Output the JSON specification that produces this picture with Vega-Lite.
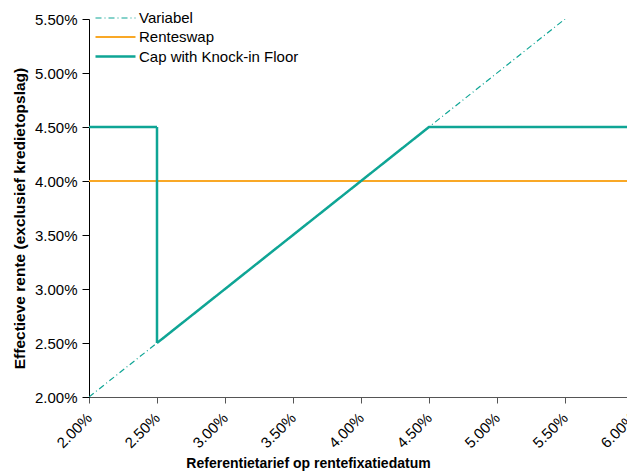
{
  "$schema": "https://vega.github.io/schema/vega-lite/v6.json",
  "autosize": "none",
  "width": 544,
  "height": 378,
  "padding": {"left": 89, "top": 19, "right": -6, "bottom": 74},
  "background": "white",
  "config": {
    "view": {"stroke": null},
    "font": "Liberation Sans",
    "axis": {"labelFont": "Liberation Sans", "titleFont": "Liberation Sans", "labelColor": "black", "titleColor": "black", "grid": false, "labelFontSize": 15, "titleFontWeight": "bold"}
  },
  "data": {
    "values": [
      {"series": "Variabel", "i": 0, "x": 0.02, "y": 0.02},
      {"series": "Variabel", "i": 1, "x": 0.055, "y": 0.055},
      {"series": "Renteswap", "i": 0, "x": 0.02, "y": 0.04},
      {"series": "Renteswap", "i": 1, "x": 0.06, "y": 0.04},
      {"series": "Cap with Knock-in Floor", "i": 0, "x": 0.02, "y": 0.045},
      {"series": "Cap with Knock-in Floor", "i": 1, "x": 0.025, "y": 0.045},
      {"series": "Cap with Knock-in Floor", "i": 2, "x": 0.025, "y": 0.025},
      {"series": "Cap with Knock-in Floor", "i": 3, "x": 0.045, "y": 0.045},
      {"series": "Cap with Knock-in Floor", "i": 4, "x": 0.06, "y": 0.045}
    ]
  },
  "mark": {"type": "line", "clip": true, "strokeCap": "butt"},
  "encoding": {
    "x": {"field": "x", "type": "quantitative",
      "scale": {"domain": [0.02, 0.06], "nice": false, "zero": false},
      "axis": {"values": [0.02, 0.025, 0.03, 0.035, 0.04, 0.045, 0.05, 0.055, 0.06], "format": ".2%", "labelAngle": -45, "labelAlign": "right", "labelBaseline": "middle", "labelPadding": 12, "labelDx": -5, "tickSize": 6, "tickColor": "#555", "domainColor": "#555", "labelOverlap": false, "labelBound": false,
        "title": "Referentietarief op rentefixatiedatum", "titleFontSize": 14, "titleX": 219, "titleY": 66, "titleBaseline": "middle", "titleAnchor": null, "titleAlign": "center"}},
    "y": {"field": "y", "type": "quantitative",
      "scale": {"domain": [0.02, 0.055], "nice": false, "zero": false},
      "axis": {"values": [0.02, 0.025, 0.03, 0.035, 0.04, 0.045, 0.05, 0.055], "format": ".2%", "tickSize": 7, "labelPadding": 5, "domainColor": "black", "tickColor": "black", "labelOverlap": false,
        "title": "Effectieve rente (exclusief kredietopslag)", "titleFontSize": 15.5, "titleX": -70, "titleY": 199, "titleBaseline": "middle", "titleAlign": "center", "titleAngle": -90}},
    "order": {"field": "i", "type": "quantitative"},
    "color": {"field": "series", "type": "nominal",
      "scale": {"domain": ["Variabel", "Renteswap", "Cap with Knock-in Floor"], "range": ["#0FA595", "#F9A826", "#0FA595"]},
      "legend": {"title": null, "orient": "none", "legendX": 15, "legendY": -12, "padding": 0, "symbolType": "M-2,0L2,0", "symbolSize": 400, "symbolFillColor": "transparent", "labelFontSize": 15, "labelFont": "Liberation Sans", "labelColor": "black", "rowPadding": 0, "labelOffset": 12}},
    "strokeDash": {"field": "series", "type": "nominal",
      "scale": {"domain": ["Variabel", "Renteswap", "Cap with Knock-in Floor"], "range": [[6, 3, 1, 3], [1, 0], [1, 0]]},
      "legend": {"title": null}},
    "strokeWidth": {"field": "series", "type": "nominal",
      "scale": {"domain": ["Variabel", "Renteswap", "Cap with Knock-in Floor"], "range": [1.2, 2.5, 3]},
      "legend": {"title": null}}
  }
}
